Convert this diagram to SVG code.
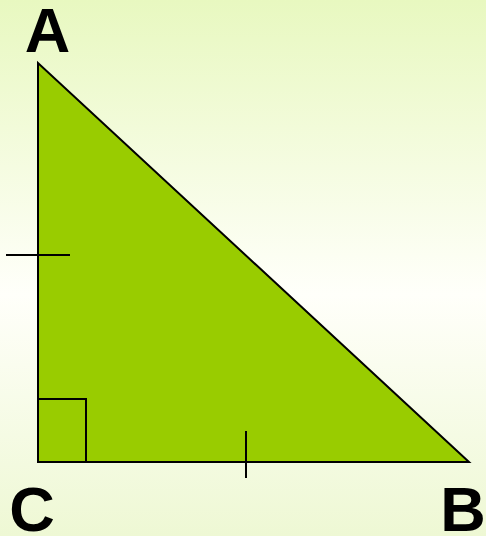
<svg xmlns="http://www.w3.org/2000/svg" width="486" height="536" viewBox="0 0 486 536">
<defs>
<linearGradient id="bg" x1="0" y1="0" x2="0" y2="1">
<stop offset="0" stop-color="#E8F8C0"/>
<stop offset="0.55" stop-color="#FFFFFA"/>
<stop offset="1" stop-color="#EEF8D4"/>
</linearGradient>
<style>
.ln{stroke:#000;stroke-width:2;fill:none}
.lbl{font-family:"Liberation Sans",Arial,sans-serif;font-weight:bold;font-size:63px;fill:#000;text-anchor:middle}
</style>
</defs>
<rect width="486" height="536" fill="url(#bg)"/>
<g id="triangle">
<polygon points="38,63 38,462 469,462" fill="#99CC00" stroke="#000" stroke-width="2"/>
</g>
<g id="marks">
<polyline class="ln" points="38,399 86,399 86,462"/>
<line class="ln" x1="246" y1="431" x2="246" y2="478"/>
<line class="ln" x1="6" y1="255" x2="70" y2="255"/>
</g>
<g id="labels">
<text class="lbl" x="47.5" y="52">A</text>
<text class="lbl" x="32" y="531">C</text>
<text class="lbl" x="463" y="531">B</text>
</g>
</svg>
